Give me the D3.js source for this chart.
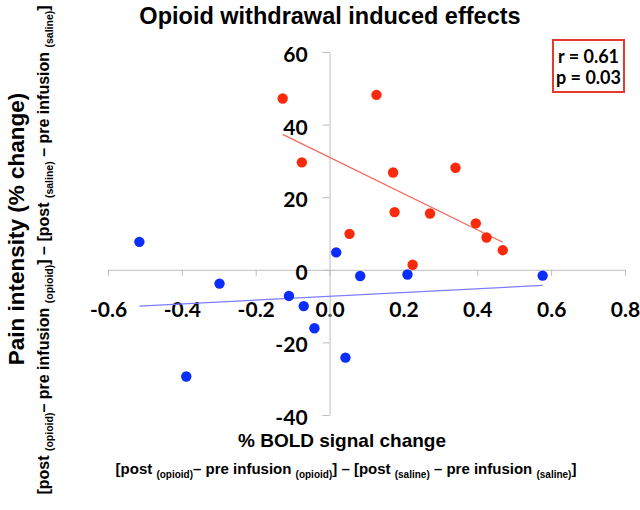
<!DOCTYPE html>
<html>
<head>
<meta charset="utf-8">
<script src="https://cdn.jsdelivr.net/npm/d3@7"></script>
<style>
	body { margin: 0; background: #fff; }
	svg { display: block; }
	.tick text { font-family: Lato, "Liberation Sans", sans-serif; font-weight: 700; fill: #000; }
</style>
</head>
<body>
<svg width="640" height="510"></svg>
<script>
/*
DATI
*/
var xOppioide = [-0.127, 0.127, -0.075, 0.172, 0.341, 0.176, 0.272, 0.054, 0.396, 0.425, 0.469, 0.225];
var yOppioide = [47.2, 48.2, 29.6, 26.8, 28.1, 15.9, 15.5, 9.9, 12.8, 8.9, 5.4, 1.4];
var xSalina = [-0.515, 0.018, -0.298, 0.083, 0.211, 0.577, -0.110, -0.070, -0.041, 0.043, -0.388];
var ySalina = [7.7, 4.8, -3.8, -1.7, -1.3, -1.6, -7.2, -10.0, -16.1, -24.2, -29.4];

// estremi delle rette di tendenza
var trendRossoX = [-0.127, 0.469];
var trendRossoY = [37.3, 7.6];
var trendBluX = [-0.515, 0.577];
var trendBluY = [-10.0, -4.3];

var tickX = [-0.6, -0.4, -0.2, 0.0, 0.2, 0.4, 0.6, 0.8];
var tickY = [-40, -20, 0, 20, 40, 60];
var statistiche = ["r = 0.61", "p = 0.03"];

var titolo = "Opioid withdrawal induced effects";
var titoloX = "% BOLD signal change";
var titoloY = "Pain intensity (% change)";
// pezzi della formula, sub = pedice
var formula = [
	{t: "[post ", sub: false}, {t: "(opioid)", sub: true}, {t: "\u2013 pre infusion ", sub: false},
	{t: "(opioid)", sub: true}, {t: "] \u2013 [post ", sub: false}, {t: "(saline)", sub: true},
	{t: " \u2013 pre infusion ", sub: false}, {t: "(saline)", sub: true}, {t: "]", sub: false}
];

/*
DISEGNO
*/
var svg = d3.select("svg");
var x = d3.scaleLinear().domain([-0.6, 0.8]).range([108, 625]);
var y = d3.scaleLinear().domain([-40, 60]).range([415, 52]);
var grigio = "#bdbdbd";

//asse x
var assex = svg.append("g")
	.attr("transform", "translate(0," + y(0) + ")")
	.call(d3.axisBottom(x).tickValues(tickX).tickSize(6).tickSizeOuter(0)
		.tickFormat(function(d){ return d3.format(".1f")(d).replace("\u2212", "-") }))
assex.selectAll("text").attr("y", 40).attr("dy", "0.35em").style("font-size", "21px")

//asse y
var assey = svg.append("g")
	.attr("transform", "translate(" + x(0) + ",0)")
	.call(d3.axisLeft(y).tickValues(tickY).tickSize(7).tickSizeOuter(0)
		.tickFormat(function(d){ return String(d).replace("\u2212", "-") }))
assey.selectAll("text").attr("x", -22).attr("dy", "0.45em").style("font-size", "21px")

svg.selectAll(".domain, .tick line").attr("stroke", grigio)

//rette di tendenza
svg.append("line")
	.attr("x1", x(trendRossoX[0])).attr("y1", y(trendRossoY[0]))
	.attr("x2", x(trendRossoX[1])).attr("y2", y(trendRossoY[1]))
	.attr("stroke", "#f26b5b").attr("stroke-width", 1.3)
svg.append("line")
	.attr("x1", x(trendBluX[0])).attr("y1", y(trendBluY[0]))
	.attr("x2", x(trendBluX[1])).attr("y2", y(trendBluY[1]))
	.attr("stroke", "#7d7dff").attr("stroke-width", 1.3)

//punti
svg.append("g").selectAll("circle")
	.data(xSalina)
	.enter().append("circle")
	.attr("cx", function(d){ return x(d) })
	.attr("cy", function(d,i){ return y(ySalina[i]) })
	.attr("r", 5.2)
	.attr("fill", "#0b2dfa")
svg.append("g").selectAll("circle")
	.data(xOppioide)
	.enter().append("circle")
	.attr("cx", function(d){ return x(d) })
	.attr("cy", function(d,i){ return y(yOppioide[i]) })
	.attr("r", 5.2)
	.attr("fill", "#fc2a0d")

//titolo
svg.append("text")
	.attr("x", 330).attr("y", 24)
	.attr("text-anchor", "middle")
	.style("font-family", "'Liberation Sans', Arial, sans-serif")
	.style("font-weight", "bold").style("font-size", "23.5px")
	.text(titolo)

//riquadro r e p
svg.append("rect")
	.attr("x", 553).attr("y", 40).attr("width", 71).attr("height", 52)
	.attr("fill", "#fff").attr("stroke", "#e3392e").attr("stroke-width", 2)
svg.append("g").selectAll("text")
	.data(statistiche)
	.enter().append("text")
	.attr("x", 588.5)
	.attr("y", function(d,i){ return 63 + i*21 })
	.attr("text-anchor", "middle")
	.style("font-family", "Lato, sans-serif")
	.style("font-weight", "bold").style("font-size", "18px")
	.text(function(d){ return d })

//etichette assi
function formulaIn(testo, grande, piccolo){
	var scarto = 0
	formula.forEach(function(p){
		var dy = p.sub ? 4 - scarto : -scarto
		scarto = p.sub ? 4 : 0
		testo.append("tspan")
			.attr("dy", dy)
			.style("font-size", (p.sub ? piccolo : grande) + "px")
			.text(p.t)
	})
}

var stile = function(t, dim){
	return t.attr("text-anchor", "middle")
		.style("font-family", "'Liberation Sans', Arial, sans-serif")
		.style("font-weight", "bold")
		.style("font-size", dim + "px")
}

stile(svg.append("text").attr("x", 342).attr("y", 447), 19).text(titoloX)
formulaIn(stile(svg.append("text").attr("x", 346).attr("y", 474), 15), 15, 10)

stile(svg.append("text").attr("transform", "translate(24,229) rotate(-90)"), 22.5).text(titoloY)
formulaIn(stile(svg.append("text").attr("transform", "translate(49,250) rotate(-90)"), 16), 16, 10.5)
</script>
</body>
</html>
